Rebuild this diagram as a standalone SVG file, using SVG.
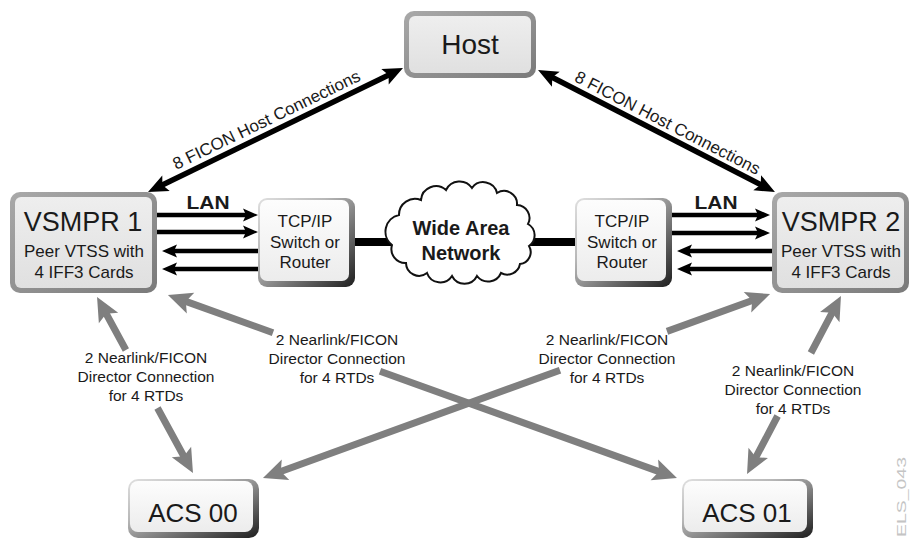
<svg xmlns="http://www.w3.org/2000/svg" width="914" height="540" viewBox="0 0 914 540">
<style>
.t{font-family:"Liberation Sans",Arial,Helvetica,sans-serif;fill:#1a1a1a;text-anchor:middle}
.b{font-weight:bold}
.lan{stroke:#000;stroke-width:4.5;fill:none;marker-end:url(#ab)}
.fic{stroke:#000;stroke-width:5.5;fill:none;marker-start:url(#af);marker-end:url(#af)}
.gry{stroke:#7f7f7f;stroke-width:7;fill:none;marker-start:url(#ag);marker-end:url(#ag)}
.thick{stroke:#000;stroke-width:8}
</style>
<defs>
<linearGradient id="gBorder" x1="0" y1="0" x2="1" y2="1">
<stop offset="0" stop-color="#a9a9a9"/><stop offset="1" stop-color="#7a7a7a"/>
</linearGradient>
<linearGradient id="gFill" x1="0" y1="0" x2="0" y2="1">
<stop offset="0" stop-color="#eeeeee"/><stop offset="1" stop-color="#e0e0e0"/>
</linearGradient>
<linearGradient id="gBevel" x1="0" y1="0" x2="1" y2="1">
<stop offset="0" stop-color="#e0e0e0"/><stop offset="0.35" stop-color="#b8b8b8"/><stop offset="1" stop-color="#1e1e1e"/>
</linearGradient>
<linearGradient id="gWhite" x1="0" y1="0" x2="0" y2="1">
<stop offset="0" stop-color="#fdfdfd"/><stop offset="1" stop-color="#ececec"/>
</linearGradient>
<marker id="ab" markerUnits="userSpaceOnUse" markerWidth="17" markerHeight="14" refX="5" refY="0" viewBox="0 -7 17 14" orient="auto-start-reverse" overflow="visible">
<path d="M0,-6.5 L15,0 L0,6.5 L3,0 z" fill="#000"/>
</marker>
<marker id="af" markerUnits="userSpaceOnUse" markerWidth="22" markerHeight="18" refX="7" refY="0" viewBox="0 -9 22 18" orient="auto-start-reverse" overflow="visible">
<path d="M0,-8.5 L20,0 L0,8.5 L4,0 z" fill="#000"/>
</marker>
<marker id="ag" markerUnits="userSpaceOnUse" markerWidth="26" markerHeight="24" refX="8" refY="0" viewBox="0 -12 26 24" orient="auto-start-reverse" overflow="visible">
<path d="M0,-11 L24,0 L0,11 L5,0 z" fill="#7f7f7f"/>
</marker>
</defs>

<g id="connectors">
<path class="fic" d="M159.7,186.3 L391.3,73.7"/>
<path class="fic" d="M549.6,76 L763.4,186"/>
<path class="lan" d="M157,215 L248,215"/>
<path class="lan" d="M157,232 L248,232"/>
<path class="lan" d="M258,251 L172,251"/>
<path class="lan" d="M258,269 L172,269"/>
<path class="lan" d="M672,215 L760,215"/>
<path class="lan" d="M672,233 L760,233"/>
<path class="lan" d="M772,251 L687,251"/>
<path class="lan" d="M772,269 L687,269"/>
<line class="thick" x1="355" y1="242" x2="398" y2="242"/>
<line class="thick" x1="522" y1="242" x2="575" y2="242"/>
<path class="gry" d="M104.7,311 L125.9,350 M157.5,408 L185.3,459"/>
<path class="gry" d="M183,300.4 L273,332.7 M380,371.2 L661.9,472.6"/>
<path class="gry" d="M278,472.5 L560,370.2 M667,331.4 L755,299.5"/>
<path class="gry" d="M833.5,310.1 L810.9,353 M777.6,416 L754.5,459.9"/>
<text class="t" font-size="17" transform="translate(269,125) rotate(-25.9)">8 FICON Host Connections</text>
<text class="t" font-size="17" transform="translate(665,128) rotate(27.24)">8 FICON Host Connections</text>
<text class="t b" font-size="18" x="208" y="209" textLength="43" lengthAdjust="spacingAndGlyphs">LAN</text>
<text class="t b" font-size="18" x="716" y="209" textLength="43" lengthAdjust="spacingAndGlyphs">LAN</text>
<text class="t" font-size="15.5" x="146" y="363">2 Nearlink/FICON</text>
<text class="t" font-size="15.5" x="146" y="382">Director Connection</text>
<text class="t" font-size="15.5" x="146" y="401">for 4 RTDs</text>
<text class="t" font-size="15.5" x="337" y="345">2 Nearlink/FICON</text>
<text class="t" font-size="15.5" x="337" y="364">Director Connection</text>
<text class="t" font-size="15.5" x="337" y="383">for 4 RTDs</text>
<text class="t" font-size="15.5" x="607" y="345">2 Nearlink/FICON</text>
<text class="t" font-size="15.5" x="607" y="364">Director Connection</text>
<text class="t" font-size="15.5" x="607" y="383">for 4 RTDs</text>
<text class="t" font-size="15.5" x="793" y="376">2 Nearlink/FICON</text>
<text class="t" font-size="15.5" x="793" y="395">Director Connection</text>
<text class="t" font-size="15.5" x="793" y="414">for 4 RTDs</text>
</g>

<g id="host">
<rect x="404" y="11" width="132" height="67" rx="10" fill="url(#gBorder)"/>
<rect x="409" y="16" width="122" height="57" rx="6" fill="url(#gFill)"/>
<text class="t" font-size="28" x="470" y="54">Host</text>
</g>

<g id="vsmpr1">
<rect x="10" y="192" width="147" height="101" rx="10" fill="url(#gBorder)"/>
<rect x="15" y="197" width="137" height="91" rx="6" fill="url(#gFill)"/>
<text class="t" font-size="27" x="83" y="231">VSMPR 1</text>
<text class="t" font-size="17" x="84" y="257">Peer VTSS with</text>
<text class="t" font-size="17" x="84" y="278">4 IFF3 Cards</text>
</g>

<g id="vsmpr2">
<rect x="772" y="192" width="137" height="101" rx="10" fill="url(#gBorder)"/>
<rect x="777" y="197" width="127" height="91" rx="6" fill="url(#gFill)"/>
<text class="t" font-size="27" x="841" y="231">VSMPR 2</text>
<text class="t" font-size="17" x="841" y="257">Peer VTSS with</text>
<text class="t" font-size="17" x="841" y="278">4 IFF3 Cards</text>
</g>

<g id="tcp1">
<rect x="258" y="198" width="97" height="89" rx="9" fill="url(#gBevel)"/>
<rect x="260" y="200" width="89" height="81" rx="7" fill="url(#gWhite)"/>
<text class="t" font-size="17" x="305" y="227">TCP/IP</text>
<text class="t" font-size="17" x="305" y="248">Switch or</text>
<text class="t" font-size="17" x="305" y="268">Router</text>
</g>

<g id="tcp2">
<rect x="575" y="198" width="97" height="89" rx="9" fill="url(#gBevel)"/>
<rect x="577" y="200" width="89" height="81" rx="7" fill="url(#gWhite)"/>
<text class="t" font-size="17" x="622" y="227">TCP/IP</text>
<text class="t" font-size="17" x="622" y="248">Switch or</text>
<text class="t" font-size="17" x="622" y="268">Router</text>
</g>

<g id="wan">
<path d="M392,245 A17,17 0 0 1 399,215 A16,16 0 0 1 421,200 A15,15 0 0 1 446,190 A15,15 0 0 1 472,188 A14,14 0 0 1 497,193 A13,13 0 0 1 517,205 A13,13 0 0 1 528,224 A13,13 0 0 1 529,246 A12,12 0 0 1 520,264 A13,13 0 0 1 501,273 A14,14 0 0 1 477,276 A14,14 0 0 1 452,276 A14,14 0 0 1 427,273 A13,13 0 0 1 406,263 A14,14 0 0 1 392,245 z" fill="#fff" stroke="#111" stroke-width="2"/>
<text class="t b" font-size="20" x="461" y="235">Wide Area</text>
<text class="t b" font-size="20" x="461" y="260">Network</text>
</g>

<g id="acs00">
<rect x="128" y="479" width="131" height="59" rx="10" fill="url(#gBevel)"/>
<rect x="130" y="481" width="123" height="51" rx="8" fill="url(#gWhite)"/>
<text class="t" font-size="26" x="193" y="522">ACS 00</text>
</g>

<g id="acs01">
<rect x="682" y="479" width="131" height="59" rx="10" fill="url(#gBevel)"/>
<rect x="684" y="481" width="123" height="51" rx="8" fill="url(#gWhite)"/>
<text class="t" font-size="26" x="747" y="522">ACS 01</text>
</g>

<text class="t" font-size="13" style="fill:#c4c4c4" transform="translate(906,497) rotate(-90)" textLength="80" lengthAdjust="spacingAndGlyphs">ELS_043</text>
</svg>
